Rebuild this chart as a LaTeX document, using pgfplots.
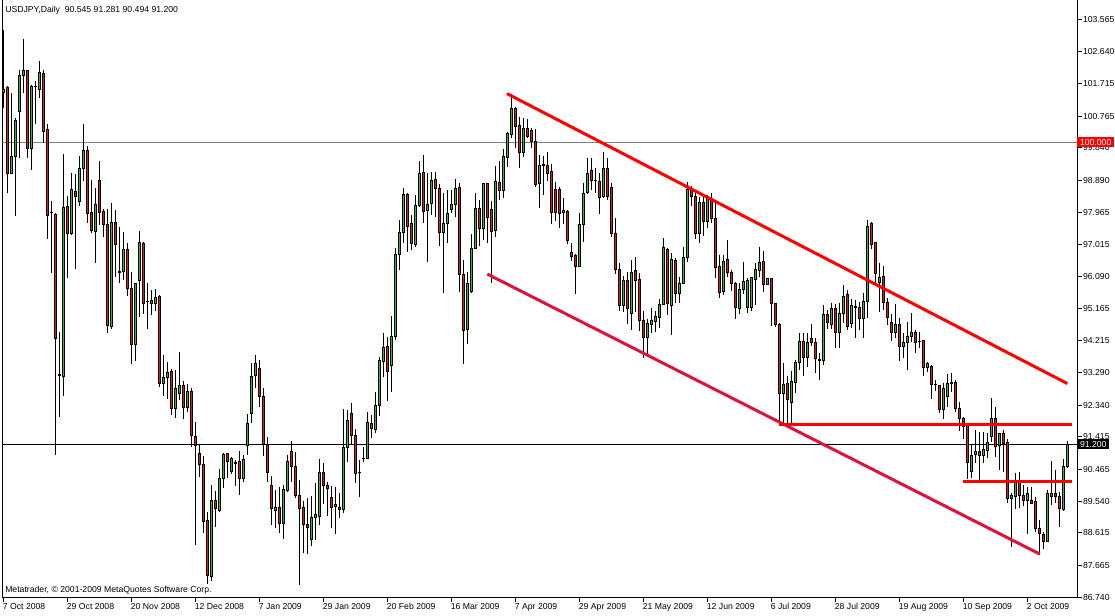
\documentclass[border=0pt]{standalone}
\usepackage{pgfplots}
\pgfplotsset{compat=1.18}
\usepackage{pgfplotstable}
\usepackage{fontspec}
\setmainfont{Liberation Sans}
\definecolor{bull}{RGB}{60,179,60}
\definecolor{bear}{RGB}{230,25,25}
\definecolor{crim}{RGB}{220,20,60}

\pgfplotstableread{
i o h l c
0 101.45 103.27 100.99 101.55
1 101.59 101.64 98.53 99.10
2 99.10 101.43 99.09 99.60
3 99.60 100.70 97.86 100.65
4 100.89 102.11 99.53 101.96
5 101.94 103.01 101.43 102.08
6 102.08 102.11 99.53 99.83
7 99.83 101.67 99.19 101.64
8 101.63 101.79 100.53 101.62
9 101.55 102.37 101.28 102.04
10 102.01 102.11 99.99 100.31
11 100.36 100.53 97.17 97.86
12 97.95 98.29 96.18 97.94
13 97.90 97.95 90.89 94.29
14 93.22 94.48 92.00 93.21
15 93.17 99.66 92.61 98.11
16 98.14 98.44 96.04 97.34
17 97.34 99.10 97.30 98.61
18 98.58 99.08 96.30 98.41
19 98.27 99.60 98.15 99.24
20 99.24 100.53 98.87 99.75
21 99.75 99.89 97.66 97.93
22 97.96 98.90 97.35 97.42
23 97.41 98.66 96.49 98.19
24 98.89 99.46 97.59 97.96
25 97.98 98.06 97.25 97.59
26 97.59 98.06 94.43 94.65
27 94.62 98.22 94.56 97.67
28 97.67 98.02 96.06 97.03
29 96.23 97.53 95.91 96.22
30 96.23 97.38 95.99 96.88
31 96.88 97.07 95.53 95.74
32 95.74 96.21 93.53 94.11
33 94.11 95.91 93.64 95.89
34 95.97 97.42 94.90 97.07
35 97.04 97.08 94.99 95.31
36 95.36 95.89 94.56 95.35
37 95.40 95.70 94.96 95.31
38 95.31 95.72 95.09 95.48
39 95.51 95.55 92.86 92.98
40 92.98 93.80 92.61 93.15
41 93.15 93.59 92.52 93.30
42 93.31 93.39 92.05 92.25
43 92.25 93.36 91.96 92.83
44 92.69 93.90 92.49 92.92
45 92.90 93.04 91.93 92.28
46 92.28 92.96 92.15 92.75
47 92.75 92.85 91.13 91.46
48 91.42 91.84 88.26 91.17
49 90.94 91.21 90.24 90.60
50 90.60 90.86 88.60 88.94
51 88.99 89.23 87.13 87.37
52 87.34 90.01 87.21 89.57
53 89.57 89.85 88.80 89.33
54 89.26 90.47 89.23 90.21
55 90.21 90.95 89.92 90.89
56 90.92 90.95 90.21 90.71
57 90.42 90.82 90.33 90.79
58 90.66 90.74 89.99 90.65
59 90.71 91.00 89.72 90.21
60 90.21 90.89 90.11 90.76
61 91.15 92.07 90.89 91.81
62 92.10 93.57 91.81 93.17
63 93.19 93.80 92.84 93.54
64 93.42 93.66 92.29 92.58
65 92.58 92.84 90.86 91.18
66 91.18 91.41 90.11 90.39
67 90.01 90.26 88.85 89.33
68 89.28 89.87 88.77 89.36
69 89.36 89.96 88.60 88.90
70 88.90 90.01 88.45 89.87
71 89.84 90.89 89.80 90.71
72 91.00 91.30 90.11 90.55
73 90.55 90.97 89.64 89.70
74 89.72 90.16 87.10 89.33
75 89.36 89.55 88.04 88.87
76 88.85 89.64 87.99 88.77
77 88.43 89.70 88.24 89.07
78 89.07 90.06 88.41 89.14
79 89.09 90.77 88.85 90.38
80 90.38 90.65 89.45 90.01
81 90.01 90.09 89.12 89.92
82 89.66 89.98 88.77 89.36
83 89.38 89.96 88.58 89.43
84 89.36 89.77 89.06 89.30
85 89.30 92.23 89.19 91.11
86 91.11 92.20 90.69 91.88
87 92.10 92.39 91.20 91.45
88 91.45 91.64 90.08 90.35
89 90.38 90.74 89.67 90.37
90 90.77 91.11 90.68 90.79
91 90.79 92.15 90.76 91.84
92 91.81 92.05 91.39 91.67
93 91.64 92.71 91.54 92.34
94 92.34 93.75 92.02 93.63
95 93.61 94.45 93.15 94.03
96 94.04 94.33 92.47 93.31
97 93.49 94.94 92.73 94.33
98 94.33 96.91 94.24 96.72
99 96.72 97.74 96.28 97.38
100 97.38 98.66 97.06 98.48
101 98.48 98.51 96.81 97.54
102 97.62 97.88 96.86 97.06
103 97.01 98.46 96.96 98.17
104 98.17 99.46 98.12 99.10
105 99.13 99.63 97.66 97.98
106 98.01 99.10 96.52 98.19
107 98.22 99.14 97.88 98.89
108 98.92 99.13 97.83 98.66
109 98.66 98.78 96.99 97.38
110 97.38 98.51 95.62 97.64
111 97.64 98.61 97.06 97.93
112 98.05 98.61 97.94 98.20
113 98.20 98.92 97.83 98.66
114 98.69 98.81 95.65 96.15
115 96.15 96.57 93.53 94.51
116 94.55 96.23 94.11 95.89
117 95.65 97.33 95.62 96.91
118 96.91 98.53 96.88 98.08
119 98.08 98.32 96.98 97.49
120 97.49 98.82 97.15 98.79
121 98.79 98.82 97.06 97.81
122 98.05 98.29 95.91 97.40
123 97.42 99.31 97.25 98.85
124 98.83 99.46 98.32 98.59
125 98.59 99.80 98.37 99.60
126 99.56 100.31 99.29 100.26
127 100.23 101.40 100.12 100.99
128 100.99 101.04 99.83 100.46
129 100.49 100.75 99.26 99.70
130 99.70 100.70 99.58 100.41
131 100.41 100.68 100.12 100.18
132 100.33 100.41 99.83 100.02
133 100.02 100.38 98.69 98.78
134 98.81 99.63 98.09 99.31
135 99.31 99.60 98.46 99.35
136 99.31 99.73 98.87 99.10
137 99.16 99.36 97.61 97.96
138 98.61 98.85 97.71 97.96
139 98.61 98.71 97.51 97.93
140 97.96 98.37 97.61 98.00
141 97.98 98.03 97.03 97.15
142 96.80 97.06 96.54 96.67
143 96.70 96.74 95.58 96.38
144 96.38 97.93 96.37 97.61
145 97.61 98.81 97.10 98.52
146 98.54 99.53 98.48 99.08
147 99.19 99.53 98.61 98.90
148 98.90 99.24 98.53 98.89
149 98.87 99.10 97.90 98.40
150 98.41 99.71 98.39 99.24
151 99.24 99.53 98.32 98.41
152 98.68 98.81 97.25 97.35
153 97.33 97.79 96.15 96.30
154 96.30 96.47 95.08 95.24
155 95.24 96.11 95.05 95.96
156 95.97 96.23 94.70 95.16
157 95.01 96.57 94.53 96.21
158 96.25 96.65 95.06 95.96
159 95.99 96.18 94.50 94.80
160 94.80 95.09 93.70 94.32
161 94.32 94.85 93.83 94.72
162 94.70 95.18 94.43 94.82
163 94.79 95.09 94.48 94.92
164 94.89 95.42 94.60 95.28
165 95.26 97.20 95.25 96.94
166 96.89 96.91 94.97 95.31
167 95.24 96.77 94.39 96.57
168 96.55 96.62 95.31 95.60
169 95.60 96.08 95.33 95.89
170 95.89 96.96 95.86 96.65
171 96.65 98.83 96.52 98.61
172 98.61 98.73 98.14 98.41
173 98.41 98.61 97.18 97.35
174 97.35 98.41 97.06 98.24
175 98.24 98.46 97.27 97.69
176 97.69 98.46 97.49 98.37
177 98.37 98.51 97.66 97.79
178 97.79 98.22 96.04 96.35
179 96.38 96.72 95.47 95.62
180 95.65 96.72 95.55 96.52
181 96.57 97.15 96.08 96.20
182 96.21 96.28 95.67 95.89
183 95.89 95.94 94.84 95.18
184 95.16 95.89 94.99 95.70
185 95.70 96.52 95.58 95.94
186 95.18 96.04 95.02 95.96
187 95.18 96.08 95.08 96.05
188 96.01 96.49 95.26 96.28
189 96.26 96.96 96.08 96.50
190 96.52 96.84 95.63 95.86
191 95.86 96.05 95.84 96.02
192 96.04 96.05 94.65 95.29
193 95.29 95.31 94.63 94.70
194 94.70 94.72 91.78 92.69
195 92.69 93.56 91.76 92.95
196 92.98 93.19 91.73 92.51
197 92.42 93.34 91.73 93.04
198 92.99 93.66 92.69 93.59
199 93.59 94.43 93.36 94.19
200 94.19 94.43 93.20 93.72
201 93.72 94.45 93.44 94.17
202 94.27 94.70 94.07 94.17
203 94.17 94.29 93.27 93.69
204 93.67 93.85 93.07 93.64
205 93.64 95.26 93.51 94.99
206 94.99 95.11 94.55 94.75
207 94.68 95.33 94.56 95.16
208 95.16 95.29 94.00 94.46
209 94.46 95.31 94.00 95.02
210 95.02 95.84 94.73 95.52
211 95.55 95.70 94.53 94.63
212 94.73 95.42 94.58 95.23
213 95.18 95.40 94.31 95.21
214 95.19 95.34 94.53 94.87
215 94.87 95.62 94.29 95.37
216 95.37 97.74 94.87 97.54
217 97.64 97.69 96.88 97.01
218 97.07 97.10 95.89 96.18
219 95.91 96.47 95.06 96.07
220 96.10 96.40 95.11 95.34
221 95.33 95.46 94.68 94.90
222 94.74 94.99 94.21 94.46
223 94.46 95.28 94.31 94.70
224 94.70 94.87 93.64 94.04
225 94.04 94.43 93.70 94.17
226 94.17 94.77 93.36 94.35
227 94.33 95.02 94.17 94.46
228 94.46 94.53 93.85 94.16
229 94.19 94.48 94.00 94.18
230 94.21 94.22 93.19 93.44
231 93.43 93.61 93.31 93.56
232 93.46 93.51 92.51 92.95
233 92.95 93.07 92.76 92.94
234 92.91 92.93 92.10 92.22
235 92.22 92.98 91.93 92.83
236 92.59 93.24 92.28 92.98
237 92.97 93.27 92.73 93.01
238 93.01 93.07 92.15 92.25
239 92.25 92.44 91.59 91.96
240 91.96 91.99 91.34 91.73
241 91.74 91.81 90.19 90.67
242 90.40 91.20 90.21 90.87
243 90.91 91.62 90.65 90.98
244 91.00 91.57 90.08 90.87
245 90.87 91.57 90.65 91.05
246 91.03 91.52 90.81 91.25
247 91.42 92.54 91.27 91.96
248 91.96 92.29 90.84 91.13
249 91.15 91.54 90.45 91.50
250 91.50 91.62 90.40 91.21
251 91.25 91.34 89.50 89.63
252 89.63 89.77 88.21 89.70
253 89.69 90.37 89.30 90.13
254 90.13 90.40 89.33 89.70
255 89.72 90.01 89.41 89.57
256 89.57 89.94 88.58 89.77
257 89.55 89.96 89.45 89.48
258 89.53 89.67 88.65 88.75
259 88.75 88.99 87.97 88.60
260 88.58 88.65 88.14 88.36
261 88.36 89.87 88.34 89.77
262 89.67 90.71 89.43 89.77
263 89.77 90.45 89.48 89.69
264 89.67 89.82 88.80 89.33
265 89.30 90.76 89.26 90.55
266 90.545 91.281 90.494 91.200
}\ohlc

\begin{document}
\begin{tikzpicture}[font=\fontsize{6.5}{7.8}\selectfont]
\pgfplotsset{
  common/.style={
    at={(1.875pt,13.5pt)}, anchor=south west,
    scale only axis, width=806.25pt, height=448.5pt,
    xmin=-0.2, xmax=268.55, ymin=86.719, ymax=104.148,
  }
}
% background: frame, ticks, horizontal levels, wicks
\begin{axis}[common,
  axis line style={black, line width=0.75pt},
  tick align=outside, major tick length=3pt,
  tick style={black, line width=0.75pt},
  xtick={0,16,...,256},
  xticklabels={7 Oct 2008,29 Oct 2008,20 Nov 2008,12 Dec 2008,7 Jan 2009,29 Jan 2009,20 Feb 2009,16 Mar 2009,7 Apr 2009,29 Apr 2009,21 May 2009,12 Jun 2009,6 Jul 2009,28 Jul 2009,19 Aug 2009,10 Sep 2009,2 Oct 2009},
  xtick pos=bottom, xticklabel pos=bottom,
  xticklabel style={anchor=north west, xshift=-1.5pt, inner sep=1pt},
  ytick={103.565,102.640,101.715,100.765,99.840,98.890,97.965,97.015,96.090,95.165,94.215,93.290,92.340,91.415,90.465,89.540,88.615,87.665,86.740},
  yticklabels={103.565,102.640,101.715,100.765,99.840,98.890,97.965,97.015,96.090,95.165,94.215,93.290,92.340,91.415,90.465,89.540,88.615,87.665,86.740},
  ytick pos=right, yticklabel pos=right,
  yticklabel style={anchor=west, inner sep=1pt},
  ticklabel style={font=\fontsize{6.5}{7.8}\selectfont},
]
\addplot[gray, line width=0.75pt] coordinates {(-0.2,100) (268.55,100)};
\addplot[black, line width=0.75pt] coordinates {(-0.2,91.2) (268.55,91.2)};
\addplot[draw=none, forget plot,
  error bars/.cd, y dir=minus, y explicit, error mark=none,
  error bar style={draw=black, solid, line width=0.75pt}]
  table[x=i, y=h, y error minus expr={\thisrow{h}-\thisrow{l}}] {\ohlc};
\end{axis}
% candle bodies
\begin{axis}[common, hide axis, ybar stacked, bar width=1.5pt]
\addplot[draw=none, fill=none] table[x=i, y expr={min(\thisrow{o},\thisrow{c})}] {\ohlc};
\addplot[draw=black, fill=bull, line width=0.75pt] table[x=i, y expr={max(\thisrow{c}-\thisrow{o},0)}] {\ohlc};
\addplot[draw=black, fill=bear, line width=0.75pt] table[x=i, y expr={max(\thisrow{o}-\thisrow{c},0)}] {\ohlc};
\end{axis}
% trend lines
\begin{axis}[common, hide axis]
\addplot[red, line width=2.25pt] coordinates {(125.9,101.42) (266.0,92.97)};
\addplot[crim, line width=2.25pt] coordinates {(121.0,96.16) (259.1,88.00)};
\addplot[red, line width=2.25pt] coordinates {(193.9,91.79) (267.2,91.79)};
\addplot[red, line width=2.25pt] coordinates {(239.8,90.12) (267.2,90.12)};
\end{axis}
% price labels on the scale
\node[fill=red, text=white, anchor=west, inner xsep=2.2pt, inner ysep=1.3pt] at (807.6pt,355.3pt) {100.000};
\node[fill=black, text=white, anchor=west, inner xsep=2.2pt, inner ysep=1.3pt] at (807.6pt,128.85pt) {91.200};
\node[anchor=west, inner sep=0pt] at (3.75pt,454.1pt) {USDJPY,Daily\ \ 90.545 91.281 90.494 91.200};
\node[anchor=west, inner sep=0pt] at (3.75pt,19.5pt) {Metatrader, © 2001-2009 MetaQuotes Software Corp.};
\pgfresetboundingbox
\useasboundingbox (0,0) rectangle (836.25pt,462pt);
\end{tikzpicture}
\end{document}
